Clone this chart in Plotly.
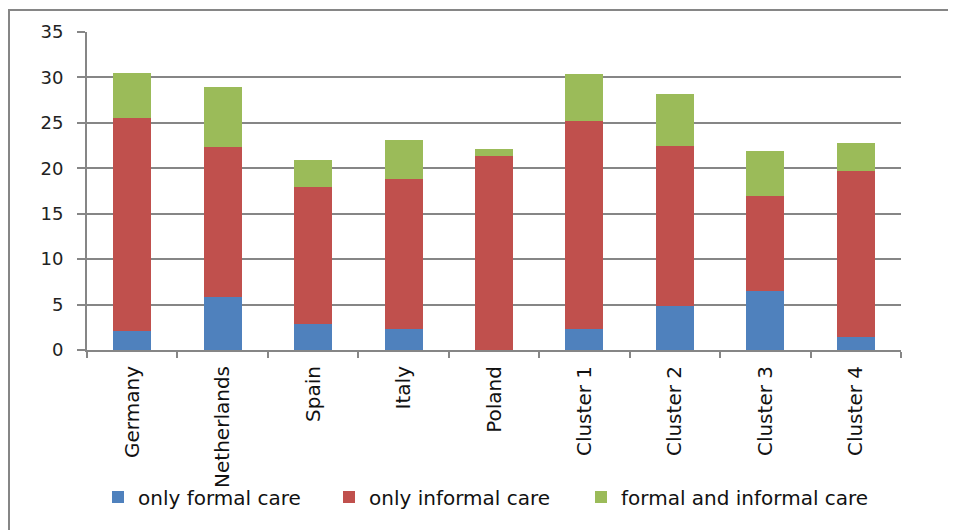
import plotly.graph_objects as go

categories = ["Germany", "Netherlands", "Spain", "Italy", "Poland",
              "Cluster 1", "Cluster 2", "Cluster 3", "Cluster 4"]
only_formal = [2.1, 5.8, 2.9, 2.3, 0.0, 2.3, 4.8, 6.5, 1.4]
only_informal = [23.4, 16.5, 15.0, 16.5, 21.4, 22.9, 17.7, 10.4, 18.3]
formal_and_informal = [5.0, 6.7, 3.0, 4.3, 0.7, 5.2, 5.7, 5.0, 3.1]
y_ticks = [0, 5, 10, 15, 20, 25, 30, 35]

series_names = ["only formal care", "only informal care", "formal and informal care"]
series_values = [only_formal, only_informal, formal_and_informal]
series_colors = ["#4F81BD", "#C0504D", "#9BBB59"]
legend_ids = ["legend", "legend2", "legend3"]

fig = go.Figure()
for name, vals, col, lg in zip(series_names, series_values, series_colors, legend_ids):
    fig.add_trace(go.Bar(x=categories, y=vals, name=name, marker_color=col,
                         marker_line_width=0, legend=lg))

grey = "#868686"
W, H = 948, 522
L, T, PW, PH = 79, 24, 814, 318

legend_left_px = [90, 321, 573]
legend_font = dict(family="DejaVu Sans", size=20, color="#111")
legend_layout = {}
for lg, px in zip(legend_ids, legend_left_px):
    legend_layout[lg] = dict(orientation="h", x=(px - L) / PW, xanchor="left",
                             y=-0.462, yanchor="middle", font=legend_font,
                             bgcolor="rgba(0,0,0,0)", itemwidth=30)

fig.update_layout(
    barmode="stack",
    bargap=0.58,
    width=W, height=H,
    margin=dict(l=L, r=W - L - PW, t=T, b=H - T - PH),
    paper_bgcolor="white", plot_bgcolor="white",
    font=dict(family="DejaVu Sans", color="#222222"),
    showlegend=True,
    xaxis=dict(showline=True, linecolor=grey, linewidth=2, ticks="outside",
               tickson="boundaries", ticklen=6, tickcolor=grey, tickwidth=2,
               tickangle=-90, ticklabelstandoff=6,
               tickfont=dict(family="DejaVu Sans", size=20, color="#111")),
    yaxis=dict(range=[0, 35], tickvals=y_ticks, showline=True, linecolor=grey, linewidth=2,
               ticks="outside", ticklen=8, tickcolor=grey, tickwidth=2,
               showgrid=True, gridcolor=grey, gridwidth=1.5, zeroline=False,
               tickfont=dict(family="DejaVu Sans", size=18, color="#222"),
               ticklabelstandoff=10),
    shapes=[dict(type="rect", xref="paper", yref="paper",
                 x0=(1 - L) / PW, x1=(W + 10 - L) / PW,
                 y0=-(H + 10 - T - PH) / PH, y1=(PH + T - 2) / PH,
                 line=dict(color=grey, width=2), layer="below")],
    **legend_layout,
)

fig.write_html("out.html")
